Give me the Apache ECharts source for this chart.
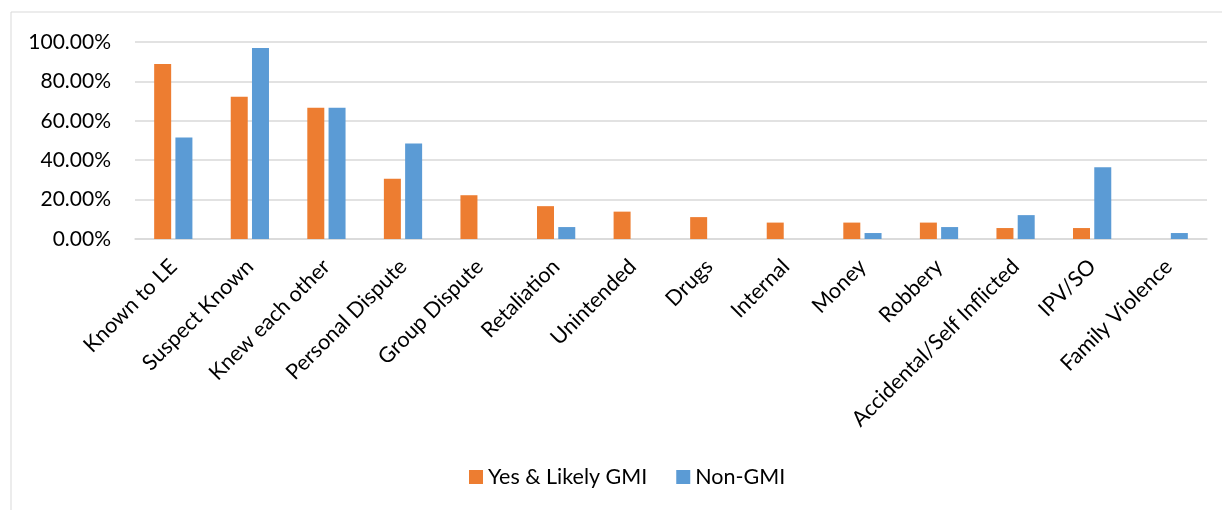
<!DOCTYPE html>
<html>
<head>
<meta charset="utf-8">
<script src="https://cdn.jsdelivr.net/npm/echarts@6/dist/echarts.min.js"></script>
<style>
  html, body { margin: 0; padding: 0; background: #fff; }
  #chart { width: 1222px; height: 510px; }
</style>
</head>
<body>
<div id="chart"></div>
<script>
// categories along the x axis
const categories = ['Known to LE', 'Suspect Known', 'Knew each other', 'Personal Dispute', 'Group Dispute',
    'Retaliation', 'Unintended', 'Drugs', 'Internal', 'Money', 'Robbery',
    'Accidental/Self Inflicted', 'IPV/SO', 'Family Violence']
// values in percent
const gmiValues = [88.89, 72.22, 66.67, 30.56, 22.22, 16.67, 13.89, 11.11, 8.33, 8.33, 8.33, 5.56, 5.56, 0]
const nonGmiValues = [51.52, 96.97, 66.67, 48.48, 0, 6.06, 0, 0, 0, 3.03, 6.06, 12.12, 36.36, 3.03]
const seriesNames = ['Yes & Likely GMI', 'Non-GMI']

const font = 'Lato, "Liberation Sans", sans-serif'
const chart = echarts.init(document.getElementById('chart'))

const options = {
    animation: false,
    textStyle: { fontFamily: font },
    graphic: [{
        type: 'rect',
        shape: { x: 11, y: 12, width: 1400, height: 700 },
        style: { fill: 'none', stroke: '#d9d9d9', lineWidth: 1 },
        silent: true
    }],
    grid: { left: 135, right: 15, top: 42, height: 197 },
    legend: {
        top: 466,
        left: 469,
        padding: 0,
        itemWidth: 14,
        itemHeight: 14,
        itemGap: 29,
        icon: 'rect',
        data: seriesNames,
        textStyle: { fontSize: 21.5, color: '#000', fontFamily: font }
    },
    xAxis: {
        type: 'category',
        data: categories,
        axisLine: { lineStyle: { color: '#d9d9d9', width: 1.5 } },
        axisTick: { show: false },
        axisLabel: {
            interval: 0,
            rotate: 45,
            margin: 24,
            fontSize: 21.5,
            color: '#000',
            fontFamily: font
        }
    },
    yAxis: {
        type: 'value',
        min: 0,
        max: 100,
        interval: 20,
        axisLine: { show: false },
        axisTick: { show: false },
        splitLine: { lineStyle: { color: '#d9d9d9', width: 1.5 } },
        axisLabel: {
            margin: 24,
            fontSize: 21,
            color: '#000',
            fontFamily: font,
            formatter: v => v.toFixed(2) + '%'
        }
    },
    series: [
        {
            name: seriesNames[0],
            type: 'bar',
            data: gmiValues,
            barWidth: 17,
            barGap: '25%',
            itemStyle: { color: '#ED7D31' }
        },
        {
            name: seriesNames[1],
            type: 'bar',
            data: nonGmiValues,
            barWidth: 17,
            itemStyle: { color: '#5B9BD5' }
        }
    ]
}
chart.setOption(options)
</script>
</body>
</html>
